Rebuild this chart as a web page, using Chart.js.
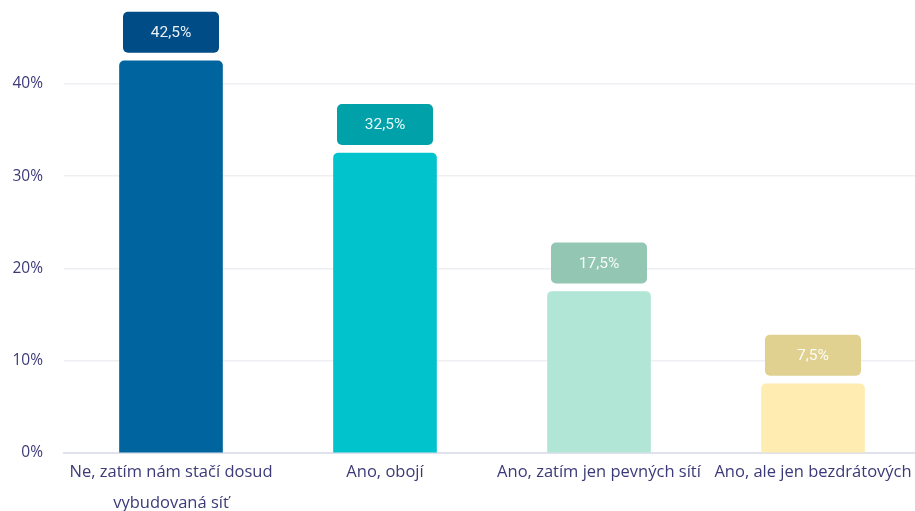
<!DOCTYPE html>
<html>
<head>
<meta charset="utf-8">
<script src="https://cdn.jsdelivr.net/npm/chart.js@4/dist/chart.umd.min.js"></script>
<style>
    html, body { margin: 0; padding: 0; background: #fff; overflow: hidden; }
    #chart { display: block; }
</style>
</head>
<body>
<canvas id="chart" width="921" height="511"></canvas>
<script>
// answers and shares (%)
const categories = [
    ['Ne, zatím nám stačí dosud', 'vybudovaná síť'],
    'Ano, obojí',
    'Ano, zatím jen pevných sítí',
    'Ano, ale jen bezdrátových'
];
const shares = [42.5, 32.5, 17.5, 7.5];
const shareLabels = ['42,5%', '32,5%', '17,5%', '7,5%'];
const yTicks = [0, 10, 20, 30, 40];

const barColors = ['#00659f', '#00c3cb', '#b1e5d5', '#feecb1'];
const boxColors = ['#004c86', '#00a1a8', '#93c7b3', '#e0d191'];
const textColor = '#3c3a78';

// value badges above each bar
const badgePlugin = {
    id: 'badges',
    afterDatasetsDraw(chart) {
        const ctx = chart.ctx;
        const meta = chart.getDatasetMeta(0);
        ctx.save();
        meta.data.forEach((bar, i) => {
            const w = 96, h = 41;
            const x = bar.x - w / 2;
            const y = bar.y - 8 - h;
            ctx.fillStyle = boxColors[i];
            ctx.beginPath();
            ctx.roundRect(x, y, w, h, 5);
            ctx.fill();
            ctx.fillStyle = 'rgba(255,255,255,0.92)';
            ctx.font = '15.5px Roboto';
            ctx.textAlign = 'center';
            ctx.textBaseline = 'middle';
            ctx.fillText(shareLabels[i], bar.x, y + h / 2 + 1);
        });
        ctx.restore();
    }
};

new Chart(document.getElementById('chart'), {
    type: 'bar',
    data: {
        labels: categories,
        datasets: [{
            data: shares,
            backgroundColor: barColors,
            borderRadius: 5,
            borderSkipped: 'start',
            barThickness: 103
        }]
    },
    options: {
        responsive: false,
        animation: false,
        layout: { padding: { top: 8, right: 1 } },
        plugins: {
            legend: { display: false },
            tooltip: { enabled: false }
        },
        scales: {
            x: {
                afterFit(scale) { scale.height = 58; },
                grid: { display: false, drawTicks: false },
                border: { color: '#dfe2ec', width: 2 },
                ticks: {
                    color: textColor,
                    padding: 4,
                    maxRotation: 0,
                    autoSkip: false,
                    font: { family: 'Open Sans', size: 16.5, lineHeight: 1.88 }
                }
            },
            y: {
                min: 0,
                max: 45.8,
                afterFit(scale) { scale.width = 64; },
                afterBuildTicks(scale) {
                    scale.ticks = yTicks.map(v => ({ value: v }));
                },
                grid: { color: '#eeeff3', lineWidth: 1.5, drawTicks: false },
                border: { display: false },
                ticks: {
                    color: textColor,
                    padding: 21,
                    font: { family: 'Open Sans', size: 15.5 },
                    callback: v => v + '%'
                }
            }
        }
    },
    plugins: [badgePlugin]
});
</script>
</body>
</html>
